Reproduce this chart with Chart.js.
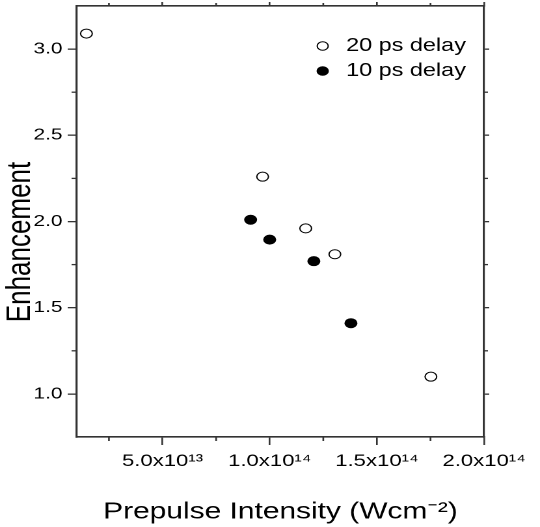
<!DOCTYPE html>
<html><head><meta charset="utf-8">
<script src="https://cdn.jsdelivr.net/npm/chart.js@4"></script>
<style>html,body{margin:0;padding:0;background:#fff;overflow:hidden}</style>
</head><body>
<canvas id="c" width="415" height="527" style="width:540px;height:527px;display:block"></canvas>
<script>
// ---- data ----
const series20Label = '20 ps delay';
const series20X = [1.45e13, 9.67e13, 1.168e14, 1.304e14, 1.752e14];
const series20Y = [3.09, 2.26, 1.96, 1.81, 1.10];
const series10Label = '10 ps delay';
const series10X = [9.11e13, 1.0e14, 1.206e14, 1.379e14];
const series10Y = [2.01, 1.895, 1.77, 1.41];
const xMajorTicks = [5e13, 1e14, 1.5e14, 2e14];
const xTickLabels = ['5.0x10¹³', '1.0x10¹⁴', '1.5x10¹⁴', '2.0x10¹⁴'];
const xMinorTicks = [2.5e13, 7.5e13, 1.25e14, 1.75e14];
const yMajorTicks = [1.0, 1.5, 2.0, 2.5, 3.0];
const yTickLabels = ['1.0', '1.5', '2.0', '2.5', '3.0'];
const yMinorTicks = [1.25, 1.75, 2.25, 2.75];
const xTitle = 'Prepulse Intensity (Wcm⁻²)';
const yTitle = 'Enhancement';

// ---- styling ----
const FONT = "'Liberation Sans', Arial, sans-serif";
const AXIS = '#333';
const X_MIN = 1e13, X_MAX = 2e14, Y_MIN = 0.75, Y_MAX = 3.25;

function setTicks(values) { return s => { s.ticks = values.map(v => ({ value: v })); }; }
function labelFrom(values, labels) { return v => { const k = values.findIndex(t => Math.abs(t - v) < 1e-9 * Math.max(1, Math.abs(t))); return k >= 0 ? labels[k] : ''; }; }

const minorTicks = {
  id: 'minorTicks',
  afterDraw(chart) {
    const ctx = chart.ctx, s = chart.scales;
    ctx.save();
    ctx.strokeStyle = AXIS; ctx.lineWidth = 1.3;
    const line = (a, b, c, d) => { ctx.beginPath(); ctx.moveTo(a, b); ctx.lineTo(c, d); ctx.stroke(); };
    xMinorTicks.forEach(v => {
      const px = s.x.getPixelForValue(v);
      line(px, s.x.top, px, s.x.top + 4);
      line(px, s.x2.bottom, px, s.x2.bottom - 3);
    });
    yMinorTicks.forEach(v => {
      const py = s.y.getPixelForValue(v);
      line(s.y.right, py, s.y.right - 4, py);
      line(s.y2.left, py, s.y2.left + 3, py);
    });
    ctx.restore();
  }
};

const yTitlePlugin = {
  id: 'yTitle',
  afterDraw(chart) {
    const ctx = chart.ctx;
    ctx.save();
    ctx.translate(16, 242);
    ctx.rotate(-Math.PI / 2);
    ctx.font = '26px ' + FONT;
    ctx.fillStyle = '#000';
    ctx.textAlign = 'center';
    ctx.textBaseline = 'middle';
    ctx.fillText(yTitle, 0, 0);
    ctx.restore();
  }
};

const legendMover = {
  id: 'legendMover',
  afterLayout(chart) {
    const L = chart.legend;
    if (!L) return;
    const w = L.width, h = 80;
    L.left = 232; L.top = 30;
    L.right = L.left + w; L.bottom = L.top + h;
    L.height = h;
  }
};

const grid = (len) => ({ drawOnChartArea: false, drawTicks: true, tickLength: len, color: AXIS, lineWidth: 1.3 });
const border = { display: true, color: AXIS, width: 1.6 };
const noVPad = (w) => s => { s.width = w; s.paddingTop = 0; s.paddingBottom = 0; };

new Chart(document.getElementById('c'), {
  type: 'scatter',
  data: {
    datasets: [
      {
        label: series20Label,
        data: series20X.map((x, i) => ({ x, y: series20Y[i] })),
        backgroundColor: '#fff', borderColor: '#000', borderWidth: 1,
        pointRadius: 4.5, pointHoverRadius: 4.5, pointStyle: 'circle'
      },
      {
        label: series10Label,
        data: series10X.map((x, i) => ({ x, y: series10Y[i] })),
        backgroundColor: '#000', borderColor: '#000', borderWidth: 1,
        pointRadius: 4.5, pointHoverRadius: 4.5, pointStyle: 'circle'
      }
    ]
  },
  options: {
    responsive: false,
    devicePixelRatio: 2,
    animation: false,
    layout: { padding: 0 },
    plugins: {
      tooltip: { enabled: false },
      legend: {
        position: 'chartArea',
        align: 'start',
        labels: {
          usePointStyle: true, boxWidth: 18, boxHeight: 6, padding: 7,
          color: '#000', font: { family: FONT, size: 18 }
        }
      }
    },
    scales: {
      x: {
        type: 'linear', position: 'bottom', min: X_MIN, max: X_MAX,
        afterBuildTicks: setTicks(xMajorTicks),
        afterFit: s => { s.height = 90; },
        ticks: { autoSkip: false, maxRotation: 0, minRotation: 0, padding: 6, color: '#000',
                 font: { family: FONT, size: 17 }, callback: labelFrom(xMajorTicks, xTickLabels) },
        grid: grid(8), border,
        title: { display: true, text: xTitle, color: '#000', font: { family: FONT, size: 23 }, padding: { top: 0, bottom: 1 } }
      },
      x2: {
        type: 'linear', position: 'top', min: X_MIN, max: X_MAX,
        afterBuildTicks: setTicks(xMajorTicks),
        afterFit: s => { s.height = 6; },
        ticks: { display: false },
        grid: grid(4), border
      },
      y: {
        type: 'linear', position: 'left', min: Y_MIN, max: Y_MAX,
        afterBuildTicks: setTicks(yMajorTicks),
        afterFit: noVPad(59),
        ticks: { padding: 4, color: '#000', font: { family: FONT, size: 16 }, callback: labelFrom(yMajorTicks, yTickLabels) },
        grid: grid(7), border
      },
      y2: {
        type: 'linear', position: 'right', min: Y_MIN, max: Y_MAX,
        afterBuildTicks: setTicks(yMajorTicks),
        afterFit: noVPad(43),
        ticks: { display: false },
        grid: grid(4), border
      }
    }
  },
  plugins: [minorTicks, yTitlePlugin, legendMover]
});
</script>
</body></html>
